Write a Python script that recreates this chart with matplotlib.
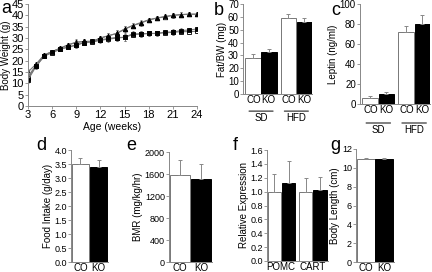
import numpy as np
import matplotlib
matplotlib.use('Agg')
import matplotlib.pyplot as plt

plt.rcParams['font.family'] = ['Liberation Sans', 'DejaVu Sans']
plt.rcParams['axes.edgecolor'] = '#888888'
plt.rcParams['xtick.color'] = '#888888'
plt.rcParams['ytick.color'] = '#888888'
plt.rcParams['xtick.labelcolor'] = 'black'
plt.rcParams['ytick.labelcolor'] = 'black'

# panel a: body weight over time
weeks = np.arange(3, 25)
co_hfd = [15, 18.5, 22.5, 24, 25.5, 27, 28.2, 28.5, 28.5, 30, 31, 32, 33.8, 35.5, 36.5, 38, 38.8, 39.3, 40, 40.3, 40.5, 40.5]
ko_hfd = [13, 18, 22.5, 24, 25.5, 27, 28, 28.5, 28.5, 30, 31, 32, 34, 35.5, 36.8, 38, 38.8, 39.5, 40, 40.3, 40.5, 40.5]
co_sd = [12.5, 17.5, 22, 23.5, 25, 26, 26.8, 28, 28.2, 29, 29.5, 30, 30.3, 31.5, 31.8, 32, 32, 32.3, 32.5, 32.8, 32.8, 33]
ko_sd = [11.5, 17.5, 22, 24, 25.2, 26, 27, 28, 28.5, 29.2, 29.8, 30.2, 30.3, 31.8, 31.8, 32, 32, 32.6, 32.6, 33.3, 33.5, 34]
err_a = [1.5, 1, 0.8, 0.8, 0.8, 1, 1.2, 1, 1, 1, 1.2, 1.5, 1.5, 1.2, 1.2, 1, 1, 1, 1.2, 1, 1, 1]

# panels b, c: SD / HFD groups
fat_bw = [28, 33, 59, 56]
fat_bw_err = [3, 2, 3, 3]
leptin = [6, 10, 72, 80]
leptin_err = [2, 2, 6, 9]

# panels d, e, g
food = [3.5, 3.4]
food_err = [0.2, 0.25]
bmr = [1580, 1510]
bmr_err = [270, 280]
body_len = [10.9, 10.9]
body_len_err = [0.1, 0.1]

# panel f
expr = [1.0, 1.12, 1.0, 1.03]
expr_err = [0.25, 0.32, 0.2, 0.18]

W, H = 432, 272
fig = plt.figure(figsize=(W / 100, H / 100), dpi=100)


def box(l, t, r, b):
    return [l / W, 1 - b / H, (r - l) / W, (b - t) / H]


def style(ax, fs=6):
    for s in ['top', 'right']:
        ax.spines[s].set_visible(False)
    ax.tick_params(labelsize=fs, length=2, width=0.6, pad=1)
    for s in ['left', 'bottom']:
        ax.spines[s].set_linewidth(0.7)


def bars(ax, pos, vals, errs, width):
    colors = ['white', 'black'] * (len(vals) // 2)
    ax.bar(pos, vals, width=width, color=colors, edgecolor=['#777777', 'black'] * (len(vals) // 2),
           linewidth=0.7, align='edge')
    ax.errorbar(np.array(pos) + width / 2, vals, yerr=[np.zeros(len(errs)), errs], fmt='none',
                ecolor='#888888', elinewidth=0.7, capsize=1.5, capthick=0.7)
    ax.tick_params(axis='x', length=0)


# ---- a
ax = fig.add_axes(box(28, 4, 197, 106))
style(ax, 8)
for y, mk, fc in [(co_hfd, '^', 'white'), (ko_hfd, '^', 'black'), (co_sd, 's', 'white'), (ko_sd, 's', 'black')]:
    ax.errorbar(weeks, y, yerr=err_a, color='#777777', lw=0.8, marker=mk, ms=3.2, mfc=fc, mec='black',
                mew=0.6, elinewidth=0.6, capsize=1, ecolor='#777777')
ax.set_xlim(3, 24)
ax.set_ylim(0, 45)
ax.set_xticks(range(3, 25, 3))
ax.set_yticks(range(0, 46, 5))
ax.set_xlabel('Age (weeks)', fontsize=7.5, labelpad=1)
ax.set_ylabel('Body Weight (g)', fontsize=7, labelpad=0)
fig.text(1 / W, 1 - 13 / H, 'a', fontsize=13)

# ---- b and c
grp_pos = [0, 1, 2.2, 3.2]
for (l, t, r, b), vals, errs, ymax, step, lab, letter, lx in [
        ((243, 4, 312, 94), fat_bw, fat_bw_err, 70, 10, 'Fat/BW (mg)', 'b', 214),
        ((360, 4, 430, 104), leptin, leptin_err, 100, 20, 'Leptin (ng/ml)', 'c', 331)]:
    ax = fig.add_axes(box(l, t, r, b))
    style(ax, 7)
    bars(ax, grp_pos, vals, errs, 0.95)
    ax.set_xlim(-0.15, 4.15)
    ax.set_ylim(0, ymax)
    ax.set_yticks(range(0, ymax + 1, step))
    ax.set_xticks([0.5, 1.45, 2.7, 3.65])
    ax.set_xticklabels(['CO', 'KO', 'CO', 'KO'], fontsize=7)
    ax.set_ylabel(lab, fontsize=7, labelpad=1)
    for x0, x1, g in [(0.05, 1.9, 'SD'), (2.25, 4.1, 'HFD')]:
        ax.annotate('', xy=(x0, -0.19), xytext=(x1, -0.19), xycoords=('data', 'axes fraction'),
                    arrowprops=dict(arrowstyle='-', lw=0.7, color='black'), annotation_clip=False)
        ax.text((x0 + x1) / 2, -0.21, g, transform=ax.get_xaxis_transform(), ha='center', va='top',
                fontsize=7)
    fig.text(lx / W, 1 - 15 / H, letter, fontsize=13)

# ---- d, e, g
for (l, t, r, b), vals, errs, yt, fmt, lab, letter, lx in [
        ((71, 150, 108, 262), food, food_err, np.arange(0, 4.01, 0.5), '%.1f', 'Food Intake (g/day)', 'd', 36),
        ((169, 152, 212, 262), bmr, bmr_err, range(0, 2001, 400), '%d', 'BMR (mg/kg/hr)', 'e', 126),
        ((356, 149, 394, 262), body_len, body_len_err, range(0, 13, 2), '%d', 'Body Length (cm)', 'g', 330)]:
    ax = fig.add_axes(box(l, t, r, b))
    style(ax, 6.5)
    bars(ax, [0.05, 1.05], vals, errs, 0.95)
    ax.set_xlim(0, 2.05)
    ax.set_ylim(0, yt[-1])
    ax.set_yticks(yt)
    ax.set_yticklabels([fmt % v for v in yt])
    ax.set_xticks([0.52, 1.52])
    ax.set_xticklabels(['CO', 'KO'], fontsize=7)
    ax.set_ylabel(lab, fontsize=7, labelpad=1)
    fig.text(lx / W, 1 - 150 / H, letter, fontsize=13)

# ---- f
ax = fig.add_axes(box(267, 150, 328, 261))
style(ax, 6.5)
bars(ax, [0.05, 1.05, 2.25, 3.25], expr, expr_err, 0.95)
ax.set_xlim(0, 4.3)
ax.set_ylim(0, 1.6)
yt = np.arange(0, 1.61, 0.2)
ax.set_yticks(yt)
ax.set_yticklabels(['%.1f' % v for v in yt])
ax.set_xticks([1.0, 3.2])
ax.set_xticklabels(['POMC', 'CART'], fontsize=7)
ax.set_ylabel('Relative Expression', fontsize=7, labelpad=1)
fig.text(233 / W, 1 - 150 / H, 'f', fontsize=13)

fig.savefig('out.png', dpi=100)
